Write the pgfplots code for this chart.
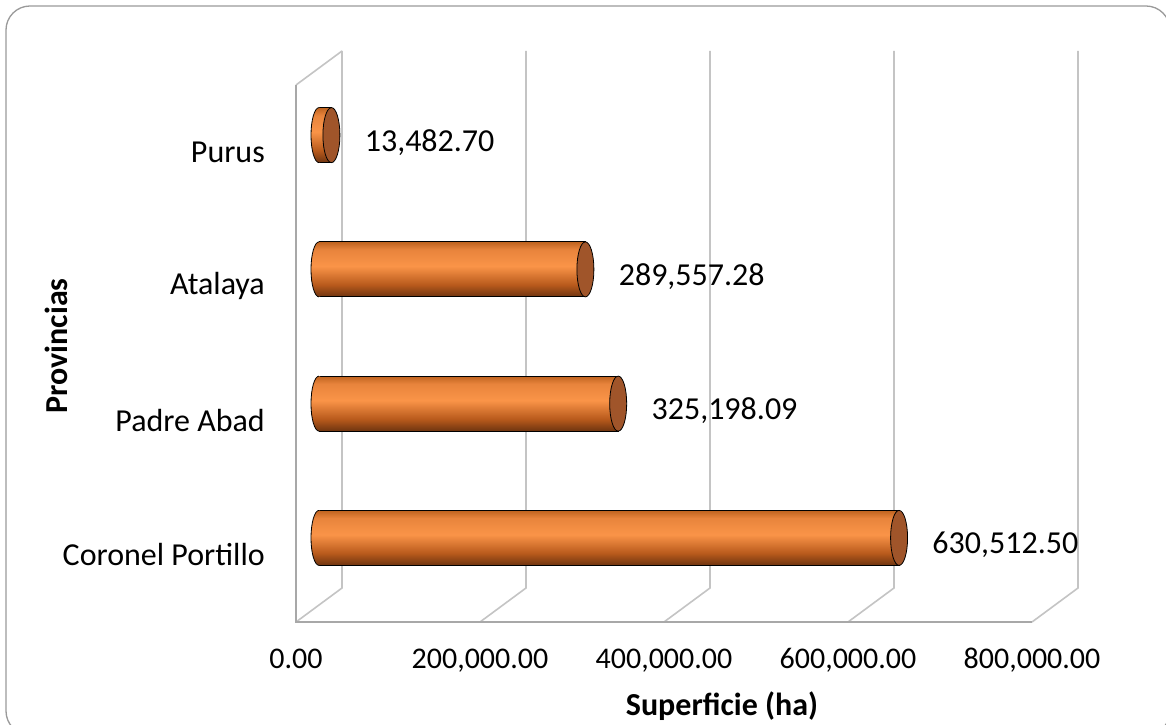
\documentclass[border=0pt]{standalone}
\usepackage{pgfplots}
\pgfplotsset{compat=1.18}
\usepackage{pgfplotstable}
\usepackage{fontspec}
\setmainfont{Carlito}

\definecolor{cbot}{HTML}{6E3410}
\definecolor{cb1}{HTML}{B85A1C}
\definecolor{clight}{HTML}{FA9448}
\definecolor{ct1}{HTML}{E8843C}
\definecolor{ctop}{HTML}{BF631F}
\definecolor{capbrown}{HTML}{A0552A}
\definecolor{wallgray}{HTML}{C4C4C4}
\definecolor{frontgray}{HTML}{A8A8A8}
\definecolor{framegray}{HTML}{9A9A9A}

\pgfdeclareverticalshading{cyl}{100bp}{color(0bp)=(cbot); color(25bp)=(cbot); color(36bp)=(cb1); color(53bp)=(clight); color(68bp)=(ct1); color(75bp)=(ctop); color(100bp)=(ctop)}

% left (rounded) end of a cylinder: half ellipse, covering the bar's left edge
\pgfdeclareplotmark{capL}{%
  \pgfpathmoveto{\pgfpoint{0pt}{27.5pt}}%
  \pgfpatharc{90}{270}{8pt and 27.5pt}%
  \pgfpathlineto{\pgfpoint{1.3pt}{-27.0pt}}%
  \pgfpathlineto{\pgfpoint{1.3pt}{27.0pt}}%
  \pgfpathclose
  \pgfshadepath{cyl}{0}%
  \pgfusepath{discard}%
  \pgfpathmoveto{\pgfpoint{0pt}{27.5pt}}%
  \pgfpatharc{90}{270}{8pt and 27.5pt}%
  \pgfusepath{stroke}}
\pgfdeclareplotmark{capR}{%
  \pgfpathellipse{\pgfpointorigin}{\pgfpoint{8.5pt}{0pt}}{\pgfpoint{0pt}{27.5pt}}%
  \pgfusepath{fill,stroke}}

\pgfplotstableread{
pos val label
0 630512.50 630,512.50
1 325198.09 325,198.09
2 289557.28 289,557.28
3 13482.70 13,482.70
}\data

\begin{document}
\begin{tikzpicture}
\useasboundingbox (0pt,0pt) rectangle (1166pt,724pt);
\fill[white] (0pt,0pt) rectangle (1166pt,724pt);
\draw[framegray, line width=1.3pt, rounded corners=24pt] (6pt,-11pt) rectangle (1170pt,718pt);

% front plane: walls, ticks, labels
\begin{axis}[
  at={(296pt,102pt)}, anchor=south west,
  scale only axis, width=736pt, height=537pt,
  xmin=0, xmax=800000, ymin=-0.5, ymax=3.5,
  axis line style={draw=none},
  major tick length=0pt,
  scaled x ticks=false,
  clip=false,
  xtick={0,200000,400000,600000,800000},
  xticklabels={0.00,{200,000.00},{400,000.00},{600,000.00},{800,000.00}},
  ytick={0,1,2,3},
  yticklabels={Coronel Portillo,Padre Abad,Atalaya,Purus},
  xticklabel style={font=\fontsize{30}{36}\selectfont, anchor=base, inner sep=0pt, yshift=-46pt},
  yticklabel style={font=\fontsize{32}{38}\selectfont, anchor=east, inner sep=0pt, xshift=-31pt},
]
\draw[wallgray, line width=1.6pt] (axis cs:0,3.5) -- ++(46pt,34pt);
\draw[wallgray, line width=1.6pt] (axis cs:0,-0.5) -- ++(46pt,34pt) -- ++(0pt,537pt);
\draw[wallgray, line width=1.6pt] (axis cs:200000,-0.5) -- ++(46pt,34pt) -- ++(0pt,537pt);
\draw[wallgray, line width=1.6pt] (axis cs:400000,-0.5) -- ++(46pt,34pt) -- ++(0pt,537pt);
\draw[wallgray, line width=1.6pt] (axis cs:600000,-0.5) -- ++(46pt,34pt) -- ++(0pt,537pt);
\draw[wallgray, line width=1.6pt] (axis cs:800000,-0.5) -- ++(46pt,34pt) -- ++(0pt,537pt);
\draw[frontgray, line width=2pt] (axis cs:0,3.5) -- (axis cs:0,-0.5) -- (axis cs:800000,-0.5);
\end{axis}

% middle plane: cylinders
\begin{axis}[
  at={(319pt,119pt)}, anchor=south west,
  scale only axis, width=736pt, height=537pt,
  xmin=0, xmax=800000, ymin=-0.5, ymax=3.5,
  hide axis, clip=false,
]
\pgfplotsinvokeforeach{0,1,2,3}{
  \addplot[xbar, bar width=55pt, bar shift=0pt, draw=black, line width=0.8pt,
    shading=cyl, restrict y to domain=#1:#1] table[x=val,y=pos]{\data};
}
\addplot[only marks, mark=capL, mark options={draw=black, line width=0.8pt}]
  table[x expr=0, y=pos]{\data};
\addplot[only marks, mark=capR, mark options={draw=black, fill=capbrown, line width=0.8pt},
  nodes near coords, point meta=explicit symbolic,
  nodes near coords style={anchor=west, inner sep=0pt, xshift=33pt, yshift=-7pt,
    font=\fontsize{32}{38}\selectfont, text=black}]
  table[x=val, y=pos, meta=label]{\data};
\end{axis}

\node[font=\bfseries\fontsize{32}{38}\selectfont] at (722pt,18pt) {Superficie (ha)};
\node[font=\bfseries\fontsize{32}{38}\selectfont, rotate=90] at (56pt,378pt) {Provincias};
\end{tikzpicture}
\end{document}
